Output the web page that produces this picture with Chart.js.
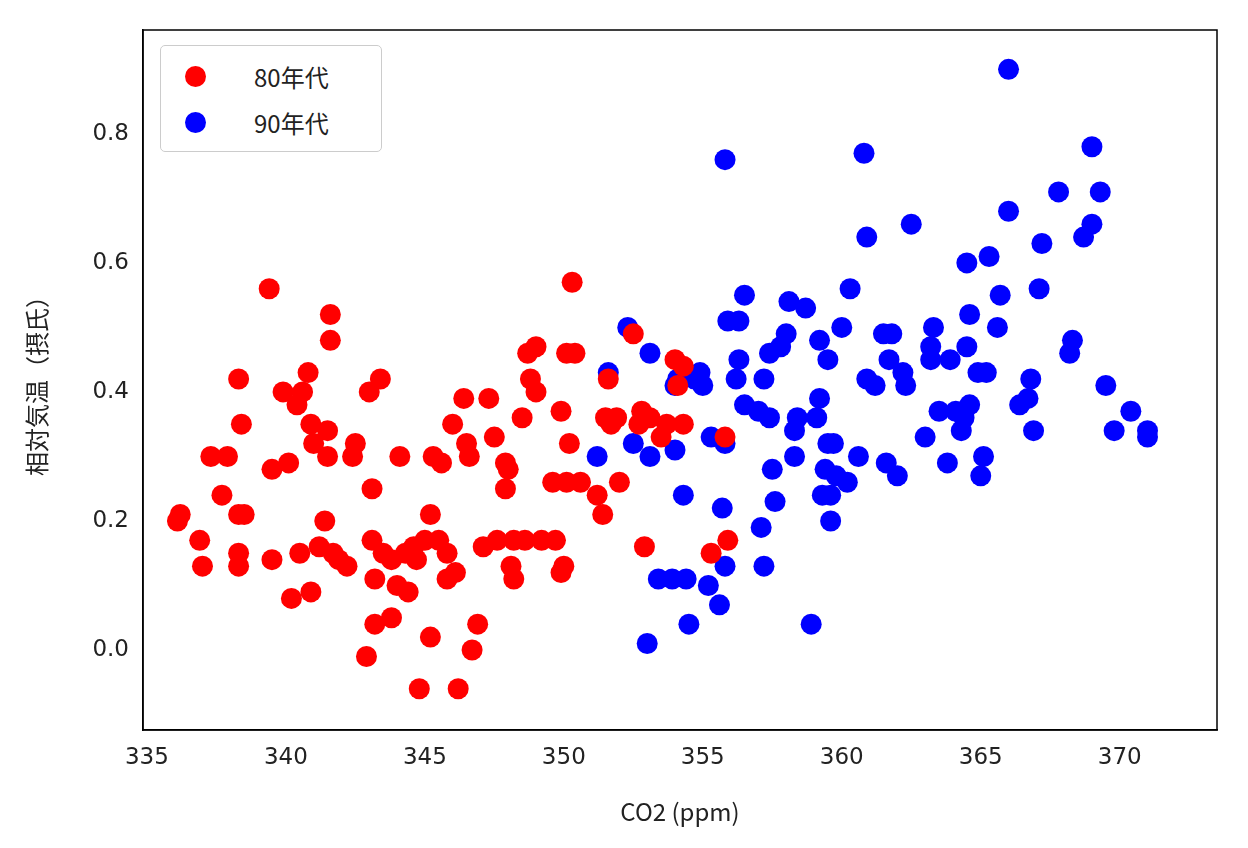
<!DOCTYPE html>
<html>
<head>
<meta charset="utf-8">
<script src="https://cdn.jsdelivr.net/npm/chart.js@4/dist/chart.umd.min.js"></script>
<style>
  html, body { margin: 0; padding: 0; background: #fff; }
  #wrap { position: relative; width: 1248px; height: 848px; }
  #legend {
    position: absolute; left: 160px; top: 45px; width: 222px; height: 107px;
    border: 1.5px solid #ccc; border-radius: 5px; background: #fff;
    font-family: "Noto Sans CJK JP", "DejaVu Sans", sans-serif; font-size: 24px; color: #222;
    box-sizing: border-box;
  }
  #legend div { position: absolute; left: 24px; display: flex; align-items: center; }
  #legend span.dot { display: inline-block; width: 21px; height: 21px; border-radius: 50%; margin-right: 48px; }
</style>
</head>
<body>
<div id="wrap">
  <canvas id="sc" width="1248" height="848"></canvas>
  <div id="legend">
    <div style="top:13px"><span class="dot" style="background:#ff0000"></span>80年代</div>
    <div style="top:59px"><span class="dot" style="background:#0000ff"></span>90年代</div>
  </div>
</div>
<script>
var xTicks = [335, 340, 345, 350, 355, 360, 365, 370];
var yTicks = [0.0, 0.2, 0.4, 0.6, 0.8];

var red80s = [
  [336.1,0.20],[336.2,0.21],[336.9,0.17],[337.0,0.13],[337.3,0.30],[337.7,0.24],[337.9,0.30],[338.3,0.42],
  [338.3,0.21],[338.4,0.35],[338.3,0.15],[338.3,0.13],[338.5,0.21],[339.4,0.56],[339.5,0.28],[339.5,0.14],
  [339.9,0.40],[340.1,0.29],[340.2,0.08],[340.4,0.38],[340.5,0.15],[340.6,0.40],[340.8,0.43],[340.9,0.35],
  [341.0,0.32],[340.9,0.09],[341.2,0.16],[341.4,0.20],[341.5,0.34],[341.6,0.52],[341.6,0.48],[341.5,0.30],
  [341.7,0.15],[341.9,0.14],[342.2,0.13],[342.4,0.30],[342.5,0.32],[342.9,-0.01],[343.0,0.40],[343.1,0.25],
  [343.1,0.17],[343.2,0.11],[343.2,0.04],[343.4,0.42],[343.5,0.15],[343.8,0.14],[343.8,0.05],[344.0,0.10],
  [344.1,0.30],[344.3,0.15],[344.4,0.09],[344.6,0.16],[344.7,0.14],[344.8,-0.06],[345.0,0.17],[345.2,0.02],
  [345.2,0.21],[345.3,0.30],[345.6,0.29],[345.5,0.17],[345.8,0.15],[345.8,0.11],[346.0,0.35],[346.1,0.12],
  [346.2,-0.06],[346.4,0.39],[346.5,0.32],[346.6,0.30],[346.7,0.00],[346.9,0.04],[347.1,0.16],[347.3,0.39],
  [347.5,0.33],[347.6,0.17],[347.9,0.29],[347.9,0.25],[348.0,0.28],[348.1,0.13],[348.2,0.17],[348.2,0.11],
  [348.5,0.36],[348.6,0.17],[348.7,0.46],[348.8,0.42],[349.0,0.40],[349.0,0.47],[349.2,0.17],[349.6,0.26],
  [349.7,0.17],[349.9,0.37],[349.9,0.12],[350.0,0.13],[350.1,0.26],[350.1,0.46],[350.2,0.32],[350.3,0.57],
  [350.4,0.46],[350.6,0.26],[351.2,0.24],[351.4,0.21],[351.5,0.36],[351.6,0.42],[351.7,0.35],[351.9,0.36],
  [352.0,0.26],[352.5,0.49],[352.7,0.35],[352.9,0.16],[352.8,0.37],[353.1,0.36],[353.5,0.33],[353.7,0.35],
  [354.0,0.45],[354.1,0.41],[354.3,0.44],[354.3,0.35],[355.3,0.15],[355.8,0.33],[355.9,0.17]
];
var blue90s = [
  [351.2,0.30],[351.6,0.43],[352.3,0.50],[352.5,0.32],[353.0,0.01],[353.1,0.46],[353.1,0.30],[353.4,0.11],
  [353.9,0.11],[354.0,0.41],[354.0,0.31],[354.1,0.42],[354.3,0.24],[354.4,0.11],[354.5,0.04],[354.7,0.42],
  [354.9,0.43],[355.0,0.41],[355.2,0.10],[355.3,0.33],[355.6,0.07],[355.7,0.22],[355.8,0.13],[355.8,0.32],
  [355.8,0.76],[355.9,0.51],[356.2,0.42],[356.3,0.51],[356.3,0.45],[356.5,0.55],[356.5,0.38],[357.0,0.37],
  [357.1,0.19],[357.2,0.13],[357.2,0.42],[357.4,0.36],[357.4,0.46],[357.5,0.28],[357.6,0.23],[357.8,0.47],
  [358.0,0.49],[358.1,0.54],[358.3,0.30],[358.3,0.34],[358.4,0.36],[358.7,0.53],[358.9,0.04],[359.1,0.36],
  [359.2,0.39],[359.2,0.48],[359.3,0.24],[359.4,0.28],[359.5,0.32],[359.5,0.45],[359.6,0.20],[359.6,0.24],
  [359.7,0.32],[359.8,0.27],[360.0,0.50],[360.2,0.26],[360.3,0.56],[360.6,0.30],[360.8,0.77],[360.9,0.64],
  [360.9,0.42],[361.2,0.41],[361.5,0.49],[361.6,0.29],[361.7,0.45],[361.8,0.49],[362.0,0.27],[362.2,0.43],
  [362.3,0.41],[362.5,0.66],[363.0,0.33],[363.2,0.45],[363.2,0.47],[363.3,0.50],[363.5,0.37],[363.8,0.29],
  [363.9,0.45],[364.1,0.37],[364.3,0.34],[364.4,0.36],[364.5,0.60],[364.5,0.47],[364.6,0.38],[364.6,0.52],
  [364.9,0.43],[365.0,0.27],[365.1,0.30],[365.2,0.43],[365.3,0.61],[365.6,0.50],[365.7,0.55],[366.0,0.68],
  [366.0,0.90],[366.4,0.38],[366.7,0.39],[366.8,0.42],[366.9,0.34],[367.1,0.56],[367.2,0.63],[367.8,0.71],
  [368.2,0.46],[368.3,0.48],[368.7,0.64],[369.0,0.66],[369.0,0.78],[369.3,0.71],[369.5,0.41],[369.8,0.34],
  [370.4,0.37],[371.0,0.34],[371.0,0.33]
];

function toPoints(arr) {
  return arr.map(function (p) { return { x: p[0], y: p[1] }; });
}

var tickFont = { size: 23, family: "'DejaVu Sans', sans-serif" };
var titleFont = { size: 24, family: "'Noto Sans CJK JP', 'DejaVu Sans', sans-serif" };

new Chart(document.getElementById('sc'), {
  type: 'scatter',
  data: {
    datasets: [
      { label: '80年代', data: toPoints(red80s), backgroundColor: '#ff0000', borderWidth: 0, pointRadius: 10.5, pointHoverRadius: 10.5 },
      { label: '90年代', data: toPoints(blue90s), backgroundColor: '#0000ff', borderWidth: 0, pointRadius: 10.5, pointHoverRadius: 10.5 }
    ]
  },
  options: {
    responsive: false,
    animation: false,
    layout: { padding: { top: 30, right: 31, left: 22, bottom: 22 } },
    plugins: { legend: { display: false }, tooltip: { enabled: false } },
    scales: {
      x: {
        type: 'linear', min: 334.86, max: 373.5,
        afterBuildTicks: function (ax) { ax.ticks = xTicks.map(function (v) { return { value: v }; }); },
        afterFit: function (ax) { ax.height = 96; },
        grid: { display: false, drawTicks: true, tickLength: 8, tickColor: '#000' },
        border: { color: '#000', width: 1.5 },
        ticks: { color: '#222', font: tickFont, padding: 6, maxRotation: 0 },
        title: { display: true, text: 'CO2 (ppm)', color: '#222', font: titleFont, padding: { top: 4, bottom: 0 } }
      },
      y: {
        type: 'linear', min: -0.124, max: 0.961,
        afterBuildTicks: function (ax) { ax.ticks = yTicks.map(function (v) { return { value: v }; }); },
        afterFit: function (ax) { ax.width = 121; },
        grid: { display: false, drawTicks: true, tickLength: 8, tickColor: '#000' },
        border: { color: '#000', width: 1.5 },
        ticks: { color: '#222', font: tickFont, padding: 6, callback: function (v) { return v.toFixed(1); } },
        title: { display: true, text: '相対気温（摂氏）', color: '#222', font: titleFont, padding: { top: 0, bottom: 8 } }
      }
    }
  },
  plugins: [{
    id: 'frame',
    afterDraw: function (chart) {
      var a = chart.chartArea, c = chart.ctx;
      c.save();
      c.strokeStyle = '#000'; c.lineWidth = 1.5;
      c.strokeRect(a.left, a.top, a.right - a.left, a.bottom - a.top);
      c.restore();
    }
  }]
});
</script>
</body>
</html>
